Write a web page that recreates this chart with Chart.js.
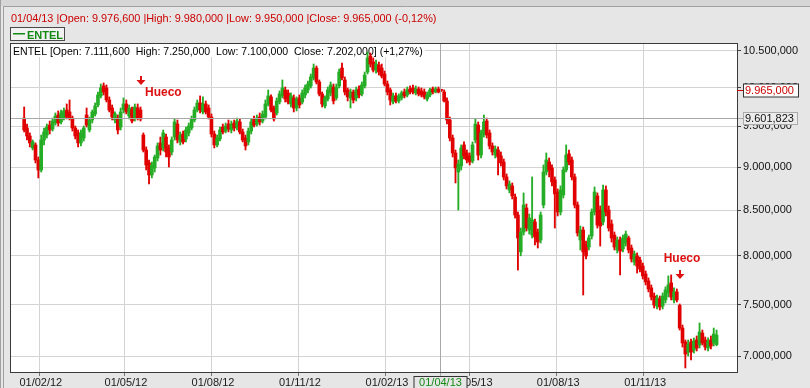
<!DOCTYPE html>
<html>
<head>
<meta charset="utf-8">
<script src="https://cdn.jsdelivr.net/npm/chart.js@4.4.1/dist/chart.umd.min.js"></script>
<style>
  html, body { margin: 0; padding: 0; background: #e6e6e6; overflow: hidden; }
  #chart { display: block; }
</style>
</head>
<body>
<canvas id="chart" width="810" height="388"></canvas>
<script>
// ENTEL, one candle every third day from 16/01/12
const symbol = 'ENTEL';
const firstDate = '2012-01-16';
const stepDays = 3;

const open = [
  9606,9480,9380,9232,9269,9086,8966,9330,9392,9517,9467,9543,9645,
  9556,9606,9709,9684,9606,9480,9418,9294,9355,9645,9455,9581,9658,
  9774,9892,10024,9997,9839,9735,9581,9606,9492,9709,9787,9632,9709,
  9606,9735,9709,9392,9207,9050,8907,8990,9110,9294,9232,9367,9232,
  9183,9367,9530,9306,9405,9343,9418,9480,9581,9709,9800,9684,9787,
  9735,9619,9405,9269,9343,9492,9442,9530,9455,9543,9492,9556,9430,
  9355,9306,9442,9594,9530,9619,9568,9619,9787,9879,9735,9671,9813,
  9892,9971,9931,9787,9866,9735,9866,9813,9905,9971,10024,10130,10265,
  10077,9918,9761,9852,9931,10010,9866,10024,10265,10104,9971,9866,9944,
  9866,9984,9918,10024,10211,10430,10348,10238,10306,10265,10184,10050,9971,
  9813,9892,9826,9866,9944,9905,9984,9997,9931,9984,9958,9944,9852,
  9905,9984,9944,9984,9976.6,9944,9826,9581,9355,9171,8942,9014,9269,
  9171,9135,9074,9330,9517,9146,9405,9568,9418,9257,9146,9207,9135,
  9062,8883,8731,8778,8651,8446,8042,8257,8525,8279,8224,8368,8257,
  8170,8559,8942,9062,8990,8848,8708,8480,8673,8966,9159,9086,8883,
  8559,8170,8279,8116,8095,8213,8480,8662,8502,8368,8731,8502,8345,
  8224,8063,8170,8074,8137,8192,8084,7935,7999,7956,7893,7810,7738,
  7667,7585,7485,7555,7485,7545,7616,7718,7545,7626,7490,7269,7136,
  7041,7136,7060,7155,7107,7221,7155,7079,7155,7126,7111.6
];
const high = [
  9748,9530,9418,9330,9294,9122,9392,9480,9530,9568,9606,9671,9697,
  9709,9735,9787,9839,9632,9505,9455,9455,9505,9735,9619,9709,9800,
  9944,10050,10064,10037,9879,9774,9684,9645,9735,9866,9839,9774,9748,
  9787,9787,9748,9418,9245,9086,9062,9146,9294,9367,9455,9405,9269,
  9367,9594,9581,9430,9442,9492,9543,9632,9748,9839,9892,9879,9826,
  9774,9658,9442,9392,9492,9530,9543,9581,9568,9581,9606,9594,9467,
  9392,9480,9594,9632,9645,9671,9697,9839,9971,9905,9761,9866,9958,
  10104,10010,9971,9931,9905,9879,9905,9971,10037,10090,10184,10320,10293,
  10104,9944,9892,10010,10077,10050,10050,10252,10334,10144,9997,9984,9971,
  10010,10024,10077,10211,10486,10472,10403,10375,10348,10320,10224,10090,9997,
  9931,9931,9918,9958,9984,10010,10024,10037,10024,10010,9997,9984,9944,
  9997,10010,10010,10010,9980,9971,9866,9619,9392,9207,9086,9269,9306,
  9207,9171,9306,9594,9556,9455,9645,9606,9455,9294,9257,9245,9183,
  9098,8919,8837,8813,8685,8480,8301,8697,8570,8457,8884,8401,8290,
  8480,9026,9171,9110,9026,8884,8743,8778,9002,9269,9207,9122,8919,
  8593,8323,8312,8159,8224,8514,8766,8697,8548,8789,8778,8548,8390,
  8257,8203,8203,8224,8268,8213,8116,8052,8031,7988,7924,7841,7769,
  7697,7616,7595,7585,7616,7677,7790,7800,7667,7656,7505,7298,7155,
  7155,7164,7174,7193,7318,7250,7183,7174,7193,7269,7250
];
const low = [
  9430,9330,9245,9207,9050,8872,8942,9269,9355,9405,9442,9517,9505,
  9530,9581,9594,9581,9442,9343,9245,9257,9318,9492,9430,9543,9632,
  9748,9866,9905,9813,9684,9581,9543,9405,9455,9671,9658,9594,9543,
  9568,9581,9568,9183,8966,8801,8872,8942,9074,9146,9195,9122,9002,
  9146,9330,9294,9269,9281,9306,9380,9455,9556,9684,9671,9658,9658,
  9594,9367,9232,9245,9318,9405,9418,9430,9418,9442,9455,9405,9306,
  9207,9269,9405,9492,9505,9517,9543,9594,9761,9684,9568,9645,9787,
  9866,9813,9787,9748,9684,9697,9735,9787,9866,9931,9997,10104,10050,
  9892,9748,9735,9826,9892,9787,9839,9997,10104,9905,9826,9735,9800,
  9826,9866,9892,9997,10184,10279,10211,10197,10170,10130,10024,9905,9774,
  9787,9800,9800,9839,9866,9879,9918,9918,9905,9892,9879,9852,9826,
  9879,9918,9931,9931,9950,9813,9530,9318,9122,8813,8502,8966,9098,
  9050,9026,9050,9294,9086,9110,9367,9355,9220,9146,9110,8907,9014,
  8848,8743,8697,8628,8412,7851,8000,8224,8268,8235,8192,8116,8084,
  8137,8525,8907,8884,8778,8301,8435,8446,8639,8942,9026,8848,8525,
  8213,8063,7595,7967,8063,8181,8446,8301,8105,8334,8435,8268,8148,
  8063,8031,7800,8042,8105,8031,7935,7903,7820,7830,7758,7697,7626,
  7545,7465,7455,7445,7455,7515,7575,7545,7515,7525,7250,7088,6894,
  7004,6967,7032,7051,7079,7107,7060,7051,7070,7098,7100
];
const close = [
  9455,9380,9294,9306,9086,8966,9330,9430,9492,9455,9568,9632,9543,
  9671,9697,9619,9606,9480,9380,9294,9418,9480,9517,9581,9684,9761,
  9905,9997,9944,9839,9709,9619,9658,9455,9684,9787,9684,9735,9568,
  9748,9606,9594,9207,9026,8907,9026,9122,9257,9207,9418,9183,9122,
  9330,9556,9330,9392,9306,9455,9505,9594,9709,9800,9709,9787,9684,
  9619,9405,9269,9355,9455,9430,9505,9467,9530,9480,9568,9430,9330,
  9257,9442,9556,9517,9606,9556,9658,9787,9892,9709,9594,9826,9918,
  9997,9852,9813,9892,9735,9852,9774,9931,9997,10050,10144,10265,10077,
  9918,9787,9866,9971,10037,9826,10010,10211,10130,9944,9879,9944,9839,
  9971,9905,10037,10170,10403,10320,10238,10320,10211,10157,10050,9944,9839,
  9892,9826,9892,9931,9892,9971,9944,9944,9984,9918,9905,9879,9905,
  9971,9944,9984,9944,9965,9826,9581,9355,9171,8990,9038,9232,9135,
  9086,9062,9269,9530,9146,9418,9556,9392,9257,9183,9220,9122,9050,
  8883,8778,8801,8662,8446,8192,8257,8559,8301,8412,8390,8203,8148,
  8446,8942,9086,8966,8825,8685,8480,8731,8966,9146,9062,8883,8559,
  8246,8279,8042,7999,8192,8480,8708,8334,8323,8731,8480,8301,8192,
  8095,8170,8052,8192,8235,8063,7967,8021,7893,7861,7790,7728,7656,
  7575,7495,7565,7475,7585,7646,7697,7575,7626,7545,7269,7126,7022,
  7117,7041,7145,7079,7231,7126,7088,7145,7098,7212,7202
];

const yTicks = [7000, 7500, 8000, 8500, 9000, 9500, 10000, 10500];
const xTickDates = ['2012-02-01', '2012-05-01', '2012-08-01', '2012-11-01',
                    '2013-02-01', '2013-05-01', '2013-08-01', '2013-11-01'];

// crosshair as it sits in the picture
const cursorDate = '2013-04-01';
const cursorPrice = 9601.823;

const gapNotes = [
  { text: 'Hueco', index: 41, price: 10037, place: 'right' },
  { text: 'Hueco', index: 231, price: 7758, place: 'above' }
];

const FONT = "'Liberation Sans', Arial, sans-serif";
const RED = '#e00000';
const GREEN = '#26ad26';
const NOTE_RED = '#dd1111';

function dayNum(iso) {
  const [y, m, d] = iso.split('-').map(Number);
  return (Date.UTC(y, m - 1, d) - Date.UTC(2012, 0, 1)) / 86400000;
}
function dateLabel(iso) {
  const [y, m, d] = iso.split('-');
  return d + '/' + m + '/' + y.slice(2);
}
function fmtPrice(v) {
  let [i, d] = Number(v).toFixed(3).split('.');
  i = i.replace(/\B(?=(\d{3})+(?!\d))/g, '.');
  return i + ',' + d;
}
function fmtPct(o, c) {
  const p = (c - o) / o * 100;
  return (p > 0 ? '+' : '') + p.toFixed(2).replace('.', ',') + '%';
}

const firstDay = dayNum(firstDate);
const days = close.map((_, i) => firstDay + i * stepDays);
const xTickDays = xTickDates.map(dayNum);
const cursorIndex = days.indexOf(dayNum(cursorDate));
const last = close.length - 1;

const candleColor = ctx => close[ctx.dataIndex] >= open[ctx.dataIndex] ? GREEN : RED;

function fitText(ctx, text, x, y, w, weight) {
  ctx.font = weight + ' 11px ' + FONT;
  const size = 11 * w / ctx.measureText(text).width;
  ctx.font = weight + ' ' + size.toFixed(2) + 'px ' + FONT;
  ctx.fillText(text, x, y);
}

const decor = {
  id: 'decor',
  beforeDraw(chart) {
    const { ctx, chartArea: a, width, height } = chart;
    ctx.save();
    ctx.fillStyle = '#e6e6e6';
    ctx.fillRect(0, 0, width, height);
    ctx.fillStyle = '#d6d6d6';
    ctx.fillRect(0, 0, width, 6);
    ctx.strokeStyle = '#a0a0a0';
    ctx.lineWidth = 1;
    ctx.beginPath();
    ctx.moveTo(3, 6.5); ctx.lineTo(width, 6.5);
    ctx.moveTo(0.5, 0); ctx.lineTo(0.5, height);
    ctx.moveTo(3.5, 6); ctx.lineTo(3.5, height);
    ctx.stroke();
    ctx.fillStyle = '#ffffff';
    ctx.fillRect(a.left, a.top, a.right - a.left, a.bottom - a.top);
    ctx.restore();
  },
  beforeDatasetsDraw(chart) {
    const { ctx, chartArea: a } = chart;
    const text = symbol + ' [Open: ' + fmtPrice(open[last]) + '  High: ' + fmtPrice(high[last]) +
      '  Low: ' + fmtPrice(low[last]) + '  Close: ' + fmtPrice(close[last]) + '] (' +
      fmtPct(open[last], close[last]) + ')';
    ctx.save();
    ctx.fillStyle = '#ffffff';
    ctx.fillRect(a.left, a.top, 414, 13);
    ctx.fillStyle = '#000000';
    ctx.textBaseline = 'alphabetic';
    fitText(ctx, text, 13, 55, 410, 'normal');
    ctx.restore();
  },
  afterDatasetsDraw(chart) {
    const { ctx, chartArea: a, scales: { x, y } } = chart;
    const ci = cursorIndex;
    const cx = Math.round(x.getPixelForValue(days[ci])) - 0.5;
    const cy = Math.round(y.getPixelForValue(cursorPrice)) + 0.5;
    ctx.save();

    // crosshair
    ctx.strokeStyle = '#a8a8a8';
    ctx.lineWidth = 1;
    ctx.beginPath();
    ctx.moveTo(cx, a.top); ctx.lineTo(cx, a.bottom + 4);
    ctx.moveTo(a.left, cy); ctx.lineTo(a.right + 6, cy);
    ctx.stroke();

    // gap notes
    ctx.fillStyle = NOTE_RED;
    ctx.font = 'bold 12px ' + FONT;
    ctx.textBaseline = 'alphabetic';
    gapNotes.forEach(n => {
      const nx = Math.round(x.getPixelForValue(days[n.index]));
      const ty = Math.round(y.getPixelForValue(n.price));
      ctx.fillRect(nx - 1, ty - 9, 2, 5);
      ctx.beginPath();
      ctx.moveTo(nx - 4.5, ty - 5);
      ctx.lineTo(nx + 4.5, ty - 5);
      ctx.lineTo(nx, ty);
      ctx.closePath();
      ctx.fill();
      if (n.place === 'right') {
        ctx.textAlign = 'left';
        ctx.fillText(n.text, nx + 4, ty + 11);
      } else {
        ctx.textAlign = 'center';
        ctx.fillText(n.text, nx + 2, ty - 17);
      }
    });

    // plot frame
    ctx.strokeStyle = '#3a3a3a';
    ctx.strokeRect(a.left - 0.5, a.top - 0.5, a.right - a.left + 1, a.bottom - a.top + 1);

    // header line for the cursor candle
    const head = dateLabel(cursorDate) + ' |Open: ' + fmtPrice(open[ci]) + ' |High: ' + fmtPrice(high[ci]) +
      ' |Low: ' + fmtPrice(low[ci]) + ' |Close: ' + fmtPrice(close[ci]) + ' (' + fmtPct(open[ci], close[ci]) + ')';
    ctx.fillStyle = '#cc0000';
    ctx.textAlign = 'left';
    fitText(ctx, head, 11, 22, 426, 'normal');

    // legend box
    ctx.fillStyle = '#f2f2f2';
    ctx.fillRect(10.5, 27.5, 54, 13);
    ctx.strokeStyle = '#4a4a4a';
    ctx.strokeRect(10.5, 27.5, 54, 13);
    ctx.fillStyle = '#138a13';
    ctx.fillRect(13, 33, 12, 1.5);
    ctx.font = 'bold 11px ' + FONT;
    ctx.fillText(symbol, 27, 38.5);

    // date tag on the x axis
    ctx.font = '11px ' + FONT;
    ctx.textBaseline = 'middle';
    ctx.fillStyle = '#e6e6e6';
    ctx.fillRect(cx - 26.5, a.bottom + 4, 53, 13);
    ctx.strokeStyle = '#333333';
    ctx.strokeRect(cx - 26.5, a.bottom + 4.5, 53, 13);
    ctx.fillStyle = '#138a13';
    ctx.textAlign = 'center';
    ctx.fillText(dateLabel(cursorDate), cx, a.bottom + 10.5);

    // close tag of the cursor candle
    const py = Math.round(y.getPixelForValue(close[ci])) + 0.5;
    ctx.strokeStyle = '#cc0000';
    ctx.beginPath(); ctx.moveTo(a.right, py); ctx.lineTo(a.right + 6, py); ctx.stroke();
    ctx.fillStyle = '#ffffff';
    ctx.fillRect(743.5, py - 6.5, 55, 13);
    ctx.strokeStyle = '#333333';
    ctx.strokeRect(743.5, py - 6.5, 55, 13);
    ctx.fillStyle = '#cc0000';
    ctx.textAlign = 'left';
    ctx.fillText(fmtPrice(close[ci]), 745, py + 0.5);

    // price tag of the crosshair
    ctx.fillStyle = '#ececec';
    ctx.fillRect(743.5, cy - 6, 54, 12);
    ctx.strokeStyle = '#aaaaaa';
    ctx.strokeRect(743.5, cy - 6, 54, 12);
    ctx.fillStyle = '#111111';
    ctx.fillText(fmtPrice(cursorPrice), 745, cy + 0.5);

    ctx.restore();
  }
};

new Chart(document.getElementById('chart'), {
  type: 'bar',
  data: {
    datasets: [
      {
        label: 'wick',
        data: days.map((d, i) => ({ x: d, y: [low[i], high[i]] })),
        backgroundColor: candleColor,
        barThickness: 1.2,
        grouped: false,
        order: 2
      },
      {
        label: 'body',
        data: days.map((d, i) => ({ x: d, y: [open[i], close[i]] })),
        backgroundColor: candleColor,
        barThickness: 3,
        minBarLength: 1,
        grouped: false,
        order: 1
      }
    ]
  },
  options: {
    responsive: false,
    devicePixelRatio: 1,
    animation: false,
    events: [],
    layout: { padding: { left: 11, top: 44, right: 0, bottom: 0 } },
    plugins: { legend: { display: false }, tooltip: { enabled: false } },
    scales: {
      x: {
        type: 'linear',
        min: 1.08,
        max: 768.6,
        offset: false,
        bounds: 'data',
        afterBuildTicks: s => { s.ticks = xTickDays.map(v => ({ value: v })); },
        afterFit: s => { s.height = 16; },
        ticks: {
          autoSkip: false,
          maxRotation: 0,
          padding: 0,
          labelOffset: 1.5,
          color: '#1a1a1a',
          font: { family: FONT, size: 11 },
          callback: (v, i) => dateLabel(xTickDates[i])
        },
        grid: { color: '#d3d3d3', tickColor: '#777777', tickLength: 4, offset: false },
        border: { display: false }
      },
      y: {
        type: 'logarithmic',
        position: 'right',
        min: 6857,
        max: 10598,
        bounds: 'data',
        afterBuildTicks: s => { s.ticks = yTicks.map(v => ({ value: v })); },
        afterFit: s => { s.width = 73; },
        ticks: {
          autoSkip: false,
          padding: 2,
          color: '#111111',
          font: { family: FONT, size: 11 },
          callback: v => fmtPrice(v)
        },
        grid: { color: '#d3d3d3', tickColor: '#444444', tickLength: 4 },
        border: { display: false }
      }
    }
  },
  plugins: [decor]
});
</script>
</body>
</html>
